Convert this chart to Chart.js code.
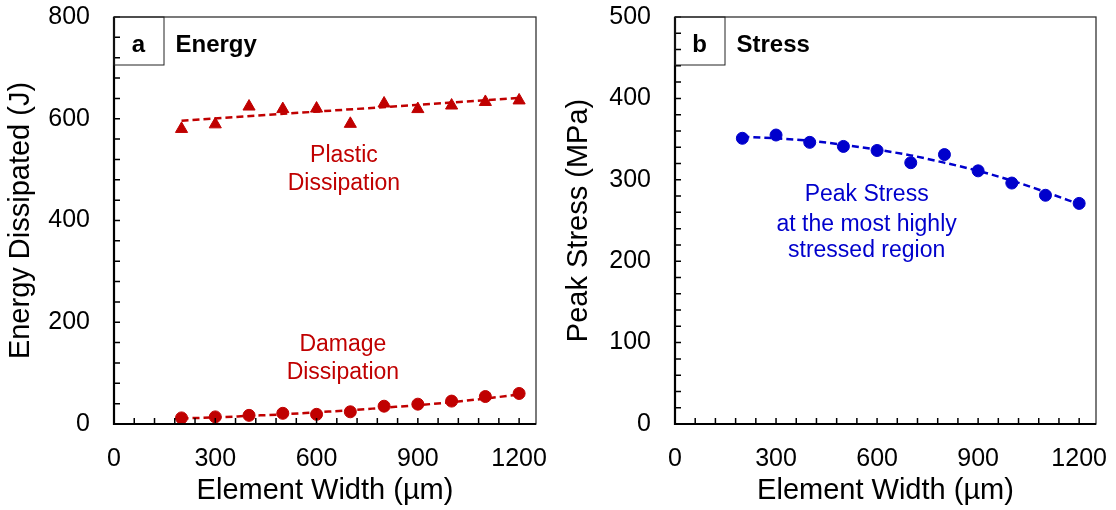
<!DOCTYPE html>
<html>
<head>
<meta charset="utf-8">
<script src="https://cdn.jsdelivr.net/npm/chart.js@4/dist/chart.umd.min.js"></script>
<style>
  body { margin: 0; background: #fff; width: 1116px; height: 510px; overflow: hidden; position: relative; }
  .panel { position: absolute; top: 0; height: 510px; }
</style>
</head>
<body>
<div class="panel" style="left:0;width:580px"><canvas id="chartA"></canvas></div>
<div class="panel" style="left:558px;width:558px"><canvas id="chartB"></canvas></div>
<script>
// values
const widths = [200, 300, 400, 500, 600, 700, 800, 900, 1000, 1100, 1200]
const plasticEnergy = [580, 589, 624, 619, 620, 590, 630, 619, 626, 633, 636]
const plasticTrendX = [200, 1200]
const plasticTrend = [596, 641]
const damageEnergy = [12, 14, 17, 21, 19, 24, 35, 39, 45, 54, 60]
const damageTrend = [11, 13, 16, 19, 23, 27, 32, 37, 43, 50, 58]
const peakStress = [351, 355, 346, 341, 336, 321, 331, 311, 296, 281, 271]
const stressTrend = [353, 351, 348, 343, 337, 330, 321, 311, 299, 285, 270]

const xTicks = [0, 300, 600, 900, 1200]
const energyTicks = [0, 200, 400, 600, 800]
const stressTicks = [0, 100, 200, 300, 400, 500]

const FONT = '"Liberation Sans", Arial, Helvetica, sans-serif'
const RED = '#C00000'
const BLUE = '#0000CC'

function pts(xs, ys) {
    let out = []
    for (let i = 0; i < xs.length; i++) out.push({ x: xs[i], y: ys[i] })
    return out
}

// frame, inward ticks, panel tag and the text notes
const framePlugin = {
    id: 'frame',
    afterDraw(chart, args, opts) {
        const ctx = chart.ctx
        const a = chart.chartArea
        const x = chart.scales.x
        const y = chart.scales.y
        ctx.save()

        ctx.strokeStyle = '#000'
        ctx.lineWidth = 1.5
        ctx.beginPath()
        for (let v = 0; v <= x.max; v += opts.xStep) {
            const px = x.getPixelForValue(v)
            ctx.moveTo(px, a.bottom)
            ctx.lineTo(px, a.bottom - 6)
        }
        for (let v = 0; v <= y.max; v += opts.yStep) {
            const py = y.getPixelForValue(v)
            ctx.moveTo(a.left, py)
            ctx.lineTo(a.left + 6, py)
        }
        ctx.stroke()

        ctx.lineWidth = 1.3
        ctx.strokeStyle = '#333'
        ctx.strokeRect(a.left, a.top, a.right - a.left, a.bottom - a.top)
        ctx.lineWidth = 2.2
        ctx.strokeStyle = '#000'
        ctx.beginPath()
        ctx.moveTo(a.left, a.top)
        ctx.lineTo(a.left, a.bottom)
        ctx.lineTo(a.right, a.bottom)
        ctx.stroke()

        ctx.lineWidth = 1
        ctx.strokeStyle = '#222'
        ctx.strokeRect(a.left, a.top, 50, 48)
        ctx.fillStyle = '#000'
        ctx.font = 'bold 24px ' + FONT
        ctx.textBaseline = 'alphabetic'
        ctx.textAlign = 'center'
        ctx.fillText(opts.tag, a.left + 24.5, a.top + 34.5)
        ctx.textAlign = 'left'
        ctx.fillText(opts.title, a.left + 61.5, a.top + 34.5)

        ctx.font = '23px ' + FONT
        ctx.textAlign = 'center'
        ctx.textBaseline = 'middle'
        opts.notes.forEach(n => {
            ctx.fillStyle = n.color
            ctx.fillText(n.text, x.getPixelForValue(n.x), y.getPixelForValue(n.y) + 1.5)
        })
        ctx.restore()
    }
}

function makeScales(yTicks, yTitle, yWidth, titlePad) {
    return {
        x: {
            type: 'linear', min: 0, max: 1250,
            grid: { display: false }, border: { display: false },
            afterBuildTicks: s => { s.ticks = xTicks.map(v => ({ value: v })) },
            afterFit: s => { s.height = 86; s.paddingLeft = 0; s.paddingRight = 0 },
            ticks: { color: '#000', font: { size: 25, family: FONT }, padding: 12, maxRotation: 0, autoSkip: false,
                     callback: v => String(v) },
            title: { display: true, text: 'Element Width (µm)', color: '#000', font: { size: 29, family: FONT }, padding: { top: 0, bottom: 2 } }
        },
        y: {
            type: 'linear', min: 0, max: yTicks[yTicks.length - 1],
            grid: { display: false }, border: { display: false },
            afterBuildTicks: s => { s.ticks = yTicks.map(v => ({ value: v })) },
            afterFit: s => { s.width = yWidth; s.paddingTop = 0; s.paddingBottom = 0 },
            ticks: { color: '#000', font: { size: 25, family: FONT }, padding: 16, callback: v => String(v) },
            title: { display: true, text: yTitle, color: '#000', font: { size: 29, family: FONT }, padding: { top: titlePad, bottom: 0 } }
        }
    }
}

const baseOpts = {
    responsive: true,
    maintainAspectRatio: false,
    animation: false,
    events: []
}

new Chart(document.getElementById('chartA'), {
    type: 'scatter',
    data: {
        datasets: [
            { label: 'Plastic Dissipation', data: pts(widths, plasticEnergy), pointStyle: 'triangle', pointRadius: 7,
              backgroundColor: RED, borderColor: RED, borderWidth: 1, showLine: false },
            { label: 'Damage Dissipation', data: pts(widths, damageEnergy), pointStyle: 'circle', pointRadius: 6,
              backgroundColor: RED, borderColor: RED, borderWidth: 1, showLine: false },
            { label: 'Plastic trend', data: pts(plasticTrendX, plasticTrend), showLine: true, pointRadius: 0,
              borderColor: RED, borderWidth: 2.5, borderDash: [7, 4], tension: 0 },
            { label: 'Damage trend', data: pts(widths, damageTrend), showLine: true, pointRadius: 0,
              borderColor: RED, borderWidth: 2.5, borderDash: [7, 4], cubicInterpolationMode: 'monotone' }
        ]
    },
    options: Object.assign({}, baseOpts, {
        layout: { padding: { top: 17, right: 44, left: 0, bottom: 0 } },
        scales: makeScales(energyTicks, 'Energy Dissipated (J)', 114, 4),
        plugins: {
            legend: { display: false },
            tooltip: { enabled: false },
            frame: {
                tag: 'a', title: 'Energy', xStep: 60, yStep: 40,
                notes: [
                    { text: 'Plastic', x: 681, y: 531, color: RED },
                    { text: 'Dissipation', x: 681, y: 476, color: RED },
                    { text: 'Damage', x: 678, y: 159, color: RED },
                    { text: 'Dissipation', x: 678, y: 104, color: RED }
                ]
            }
        }
    }),
    plugins: [framePlugin]
})

new Chart(document.getElementById('chartB'), {
    type: 'scatter',
    data: {
        datasets: [
            { label: 'Peak Stress', data: pts(widths, peakStress), pointStyle: 'circle', pointRadius: 6,
              backgroundColor: BLUE, borderColor: BLUE, borderWidth: 1, showLine: false },
            { label: 'Stress trend', data: pts(widths, stressTrend), showLine: true, pointRadius: 0,
              borderColor: BLUE, borderWidth: 2.5, borderDash: [7, 4], cubicInterpolationMode: 'monotone' }
        ]
    },
    options: Object.assign({}, baseOpts, {
        layout: { padding: { top: 17, right: 20, left: 0, bottom: 0 } },
        scales: makeScales(stressTicks, 'Peak Stress (MPa)', 117, 4),
        plugins: {
            legend: { display: false },
            tooltip: { enabled: false },
            frame: {
                tag: 'b', title: 'Stress', xStep: 60, yStep: 20,
                notes: [
                    { text: 'Peak Stress', x: 569, y: 284, color: BLUE },
                    { text: 'at the most highly', x: 569, y: 247, color: BLUE },
                    { text: 'stressed region', x: 569, y: 215, color: BLUE }
                ]
            }
        }
    }),
    plugins: [framePlugin]
})
</script>
</body>
</html>
